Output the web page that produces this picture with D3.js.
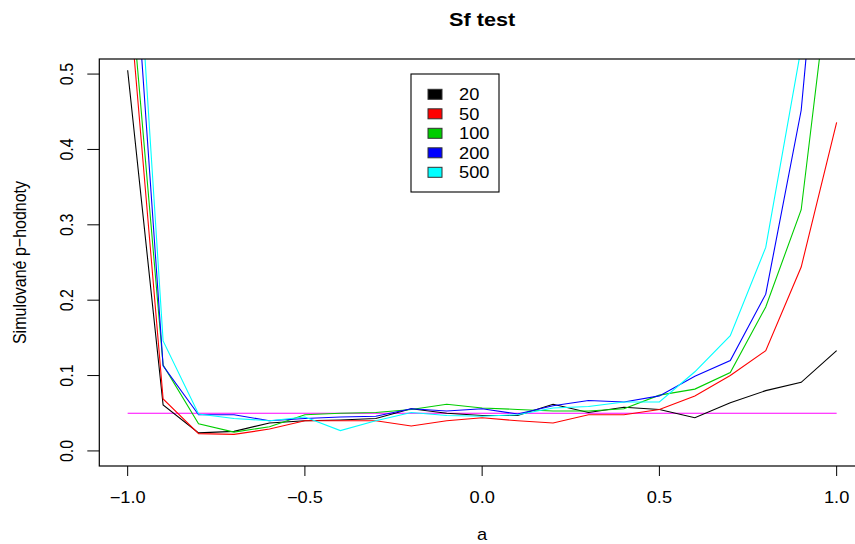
<!DOCTYPE html>
<html>
<head>
<meta charset="utf-8">
<script src="https://cdn.jsdelivr.net/npm/d3@7"></script>
<style>
  body { margin: 0; background: #fff; }
  svg { display: block; }
  text { font-family: "Liberation Sans", Arial, Helvetica, sans-serif; fill: #000; }
  .series { fill: none; stroke-width: 1.1; }
</style>
</head>
<body>
<svg width="855" height="544"></svg>
<script>
// values of a (x axis)
const aValues = [-1.0, -0.9, -0.8, -0.7, -0.6, -0.5, -0.4, -0.3, -0.2, -0.1, 0.0,
                 0.1, 0.2, 0.3, 0.4, 0.5, 0.6, 0.7, 0.8, 0.9, 1.0];

// simulated p-values for each sample size
const p20  = [0.505, 0.061, 0.024, 0.026, 0.037, 0.040, 0.041, 0.043, 0.056, 0.050, 0.047,
              0.047, 0.062, 0.051, 0.058, 0.055, 0.044, 0.064, 0.080, 0.091, 0.133];
const p50  = [0.625, 0.069, 0.023, 0.022, 0.029, 0.040, 0.040, 0.040, 0.033, 0.040, 0.044,
              0.040, 0.037, 0.048, 0.048, 0.055, 0.073, 0.100, 0.133, 0.244, 0.436];
const p100 = [0.660, 0.114, 0.036, 0.025, 0.032, 0.048, 0.050, 0.051, 0.055, 0.062, 0.057,
              0.055, 0.053, 0.053, 0.056, 0.074, 0.082, 0.104, 0.191, 0.320, 0.710];
const p200 = [0.790, 0.113, 0.048, 0.048, 0.040, 0.043, 0.045, 0.046, 0.056, 0.053, 0.056,
              0.049, 0.060, 0.067, 0.065, 0.073, 0.099, 0.120, 0.208, 0.452, 0.960];
const p500 = [0.880, 0.146, 0.049, 0.043, 0.040, 0.045, 0.027, 0.040, 0.051, 0.047, 0.046,
              0.048, 0.057, 0.059, 0.065, 0.065, 0.105, 0.153, 0.270, 0.535, 1.000];

const seriesNames  = ["20", "50", "100", "200", "500"];
const seriesValues = [p20, p50, p100, p200, p500];
const seriesColors = ["#000000", "#FF0000", "#00CD00", "#0000FF", "#00FFFF"];

// reference level 0.05
const refX = [-1, 1];
const refY = [0.05, 0.05];

const xTicks = [-1.0, -0.5, 0.0, 0.5, 1.0];
const yTicks = [0.0, 0.1, 0.2, 0.3, 0.4, 0.5];

const svg = d3.select("svg");
const stretch = 1.14;   // text in the picture is a bit wider than tall

// plot region (R style, 4% padding on both axes)
const box = { left: 99.3, right: 865, top: 59, bottom: 466 };
const x = d3.scaleLinear().domain([-1.08, 1.08]).range([box.left, box.right]);
const y = d3.scaleLinear().domain([-0.02, 0.52]).range([box.bottom, box.top]);

svg.append("clipPath").attr("id", "plotclip")
  .append("rect")
    .attr("x", box.left).attr("y", box.top)
    .attr("width", box.right - box.left).attr("height", box.bottom - box.top);

const fmt = d => d3.format(".1f")(d).replace("-", "\u2212");

// helper for horizontally stretched text
function label(g, tx, ty, str, opts = {}) {
  const rot = opts.rotate ? " rotate(-90)" : "";
  return g.append("text")
    .attr("transform", `translate(${tx},${ty}) scale(${stretch},1)${rot}`)
    .attr("text-anchor", opts.anchor || "middle")
    .style("font-size", (opts.size || 16) + "px")
    .style("font-weight", opts.bold ? "bold" : "normal")
    .text(str);
}

// lines
const line = d3.line().x((d, i) => x(aValues[i])).y(d => y(d));
const plot = svg.append("g").attr("clip-path", "url(#plotclip)");

plot.append("path")
  .datum(refY)
  .attr("class", "series")
  .attr("stroke", "#FF00FF")
  .attr("d", d3.line().x((d, i) => x(refX[i])).y(d => y(d)));

seriesValues.forEach((vals, k) => {
  plot.append("path")
    .datum(vals)
    .attr("class", "series")
    .attr("stroke", seriesColors[k])
    .attr("d", line);
});

// frame
svg.append("rect")
  .attr("x", box.left).attr("y", box.top)
  .attr("width", box.right - box.left).attr("height", box.bottom - box.top)
  .attr("fill", "none").attr("stroke", "#000").attr("stroke-width", 1.2);

// x axis
const xAxis = svg.append("g");
xTicks.forEach(t => {
  xAxis.append("line")
    .attr("x1", x(t)).attr("x2", x(t))
    .attr("y1", box.bottom).attr("y2", box.bottom + 10)
    .attr("stroke", "#000");
  label(xAxis, x(t), 503, fmt(t));
});
label(svg, (box.left + box.right) / 2, 540, "a");

// y axis
const yAxis = svg.append("g");
yTicks.forEach(t => {
  yAxis.append("line")
    .attr("x1", box.left - 12).attr("x2", box.left)
    .attr("y1", y(t)).attr("y2", y(t))
    .attr("stroke", "#000");
  label(yAxis, 72.5, y(t), fmt(t), { rotate: true });
});
label(svg, 26, (box.top + box.bottom) / 2, "Simulované p\u2212hodnoty", { rotate: true });

// title
label(svg, (box.left + box.right) / 2, 25.5, "Sf test", { size: 19, bold: true });

// legend
const legend = svg.append("g");
legend.append("rect")
  .attr("x", 411).attr("y", 74).attr("width", 88).attr("height", 118)
  .attr("fill", "#fff").attr("stroke", "#000").attr("stroke-width", 1.1);

seriesNames.forEach((name, k) => {
  const cy = 94.3 + k * 19.5;
  legend.append("rect")
    .attr("x", 428).attr("y", cy - 5).attr("width", 14).attr("height", 10)
    .attr("fill", seriesColors[k]).attr("stroke", "#333").attr("stroke-width", 1);
  label(legend, 459, cy + 5.7, name, { anchor: "start" });
});
</script>
</body>
</html>
